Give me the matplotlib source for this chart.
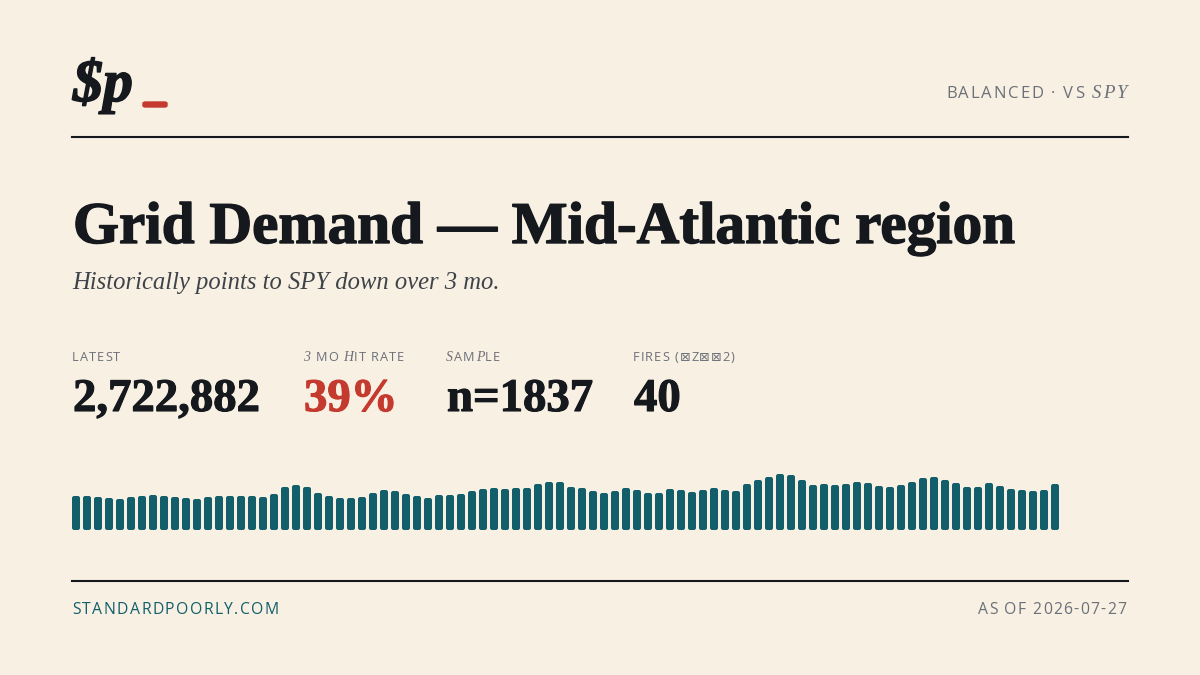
"""
Social card: Grid Demand - Mid-Atlantic region, with a strip of bars
showing the recent history of the series.
"""
import matplotlib
matplotlib.use("Agg")
import matplotlib.pyplot as plt
import matplotlib.patheffects as pe
from matplotlib.patches import FancyBboxPatch
from matplotlib.lines import Line2D
from matplotlib.font_manager import FontProperties

# ---- data -------------------------------------------------------------
title = "Grid Demand \u2014 Mid-Atlantic region"
subtitle = "Historically points to SPY down over 3 mo."
stat_values = ["2,722,882", "39%", "n=1837", "40"]
stat_colors = ["ink", "red", "ink", "ink"]
footer_left = "STANDARDPOORLY.COM"
footer_right = "AS OF 2026-07-27"

# relative bar heights, oldest -> latest
history = [34, 34, 33, 32, 31, 33, 34, 35, 34, 33,
           32, 31, 33, 34, 34, 34, 34, 33, 36, 43,
           45, 43, 37, 34, 32, 32, 33, 37, 40, 39,
           36, 34, 32, 35, 35, 36, 39, 41, 42, 41,
           42, 42, 46, 48, 48, 43, 42, 39, 37, 39,
           42, 40, 37, 37, 41, 40, 38, 40, 42, 40,
           39, 46, 50, 53, 56, 55, 50, 45, 46, 45,
           46, 48, 47, 44, 43, 45, 48, 52, 53, 50,
           47, 43, 43, 47, 44, 41, 40, 39, 40, 46]

# ---- style ------------------------------------------------------------
W, H = 1200, 675
BG = "#f8f0e3"
INK = "#15191e"
GREY = "#6b7079"
TEAL = "#125e6b"
RED = "#c53a2e"
colors = {"ink": INK, "red": RED}

SERIF = "Liberation Serif"
SANS = ["Open Sans", "DejaVu Sans"]

fig = plt.figure(figsize=(12, 6.75), dpi=100, facecolor=BG)
renderer = fig.canvas.get_renderer()


def px(x, y):
    return x / W, 1 - y / H


def fprop(family, size, weight="normal", style="normal"):
    return FontProperties(family=family, size=size, weight=weight, style=style)


def text_width(s, fp):
    t = fig.text(0, 0, s, fontproperties=fp)
    w = t.get_window_extent(renderer).width
    t.remove()
    return w


def fit_size(s, fp, target):
    probe = fp.copy()
    probe.set_size(100)
    return 100 * target / text_width(s, probe)


def advance(ch, fp):
    return text_width("|" + ch + "|", fp) - text_width("||", fp)


def tracked(x, y, parts, color, tracking=0.0, ha="left", width=None):
    """Draw text char by char with letter spacing. parts: [(str, fp), ...]"""
    chars = [(c, fp) for s, fp in parts for c in s]
    advs = [advance(c, fp) for c, fp in chars]
    if width is not None:
        tracking = (width - sum(advs)) / (len(chars) - 1)
    total = sum(advs) + tracking * (len(chars) - 1)
    if ha == "right":
        x = x - total
    for (c, fp), a in zip(chars, advs):
        if c != " ":
            fig.text(*px(x, y), c, fontproperties=fp, color=color,
                     va="baseline", ha="left")
        x += a + tracking


def heavy(color, w=0.9):
    return [pe.withStroke(linewidth=w, foreground=color)]


# ---- header -----------------------------------------------------------
logo_fp = fprop(SERIF, 10, "bold", "italic")
logo_fp.set_size(fit_size("$p", logo_fp, 60))
fig.text(*px(73, 101), "$p", fontproperties=logo_fp, color=INK,
         va="baseline", path_effects=heavy(INK, 1.1))
fig.patches.append(FancyBboxPatch(px(143, 107), 24 / W, 5 / H,
                                  boxstyle="round,pad=0,rounding_size=0.002",
                                  transform=fig.transFigure, color=RED))

top_sans = fprop(SANS, 12)
top_serif = fprop(SERIF, 13.5, style="italic")
tracked(1127, 98, [("BALANCED \u00b7 VS ", top_sans), ("SPY", top_serif)],
        GREY, ha="right", width=181)

fig.add_artist(Line2D([72 / W, 1128 / W], [1 - 137 / H] * 2,
                      color=INK, lw=1.5, transform=fig.transFigure))

# ---- title block ------------------------------------------------------
title_fp = fprop(SERIF, 10, "bold")
title_fp.set_size(fit_size(title, title_fp, 942))
fig.text(*px(73, 243), title, fontproperties=title_fp, color=INK,
         va="baseline", path_effects=heavy(INK, 1.0))

sub_fp = fprop(SERIF, 10, style="italic")
sub_fp.set_size(fit_size(subtitle, sub_fp, 428))
fig.text(*px(72, 289), subtitle, fontproperties=sub_fp, color="#3e434a",
         va="baseline")

# ---- stats row --------------------------------------------------------
lab_sans = fprop(SANS, 9.2)
lab_serif = fprop(SERIF, 10, style="italic")
stat_x = [72, 303, 446, 633]
stat_labels = [
    [("LATEST", lab_sans)],
    [("3", lab_serif), (" MO ", lab_sans), ("H", lab_serif), ("IT RATE", lab_sans)],
    [("S", lab_serif), ("AM", lab_sans), ("P", lab_serif), ("LE", lab_sans)],
    [("FIRES (\u22a0Z\u22a0\u22a02)", lab_sans)],
]
for x, parts in zip(stat_x, stat_labels):
    tracked(x, 361, parts, GREY, tracking=1.0)

val_fp = fprop(SERIF, 10, "bold")
val_fp.set_size(fit_size(stat_values[0], val_fp, 187))
for x, v, c in zip(stat_x, stat_values, stat_colors):
    fig.text(*px(x + 1, 411), v, fontproperties=val_fp, color=colors[c],
             va="baseline", path_effects=heavy(colors[c], 0.8))

# ---- bar strip --------------------------------------------------------
ax = fig.add_axes([72 / W, 1 - 530 / H, 987 / W, 56 / H])
ax.set_facecolor("none")
bw = 8 / 11
for i, h in enumerate(history):
    ax.add_patch(FancyBboxPatch((i - bw / 2, 0), bw, h,
                                boxstyle="round,pad=0,rounding_size=0.2",
                                mutation_aspect=11, color=TEAL, lw=0))
ax.set_xlim(-bw / 2, len(history) - 1 + bw / 2)
ax.set_ylim(0, max(history))
ax.axis("off")

# ---- footer -----------------------------------------------------------
fig.add_artist(Line2D([72 / W, 1128 / W], [1 - 581 / H] * 2,
                      color=INK, lw=1.5, transform=fig.transFigure))
foot_fp = fprop(SANS, 11.3)
tracked(72, 614, [(footer_left, foot_fp)], TEAL, width=207)
tracked(1126, 614, [(footer_right, foot_fp)], GREY, ha="right", width=148)

fig.savefig("out.png", dpi=100, facecolor=BG)
